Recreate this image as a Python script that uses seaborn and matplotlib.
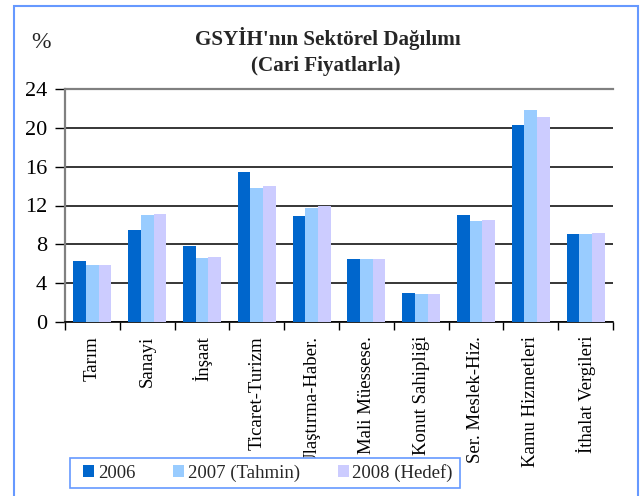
import matplotlib
matplotlib.use("Agg")
import matplotlib.pyplot as plt
import seaborn as sns
import pandas as pd
from matplotlib.patches import Rectangle
from matplotlib.ticker import FixedLocator

categories = ["Tarım", "Sanayi", "İnşaat", "Ticaret-Turizm", "Ulaştırma-Haber.",
              "Mali Müessese.", "Konut Sahipliği", "Ser. Meslek-Hiz.",
              "Kamu Hizmetleri", "İthalat Vergileri"]
series_names = ["2006", "2007 (Tahmin)", "2008 (Hedef)"]
v2006 = [6.3, 9.5, 7.8, 15.5, 10.9, 6.5, 3.0, 11.0, 20.3, 9.1]
v2007 = [5.9, 11.0, 6.6, 13.8, 11.7, 6.5, 2.9, 10.4, 21.8, 9.1]
v2008 = [5.9, 11.1, 6.7, 14.0, 11.9, 6.5, 2.9, 10.5, 21.1, 9.2]
yticks = [0, 4, 8, 12, 16, 20, 24]

rows = []
for name, vals in zip(series_names, [v2006, v2007, v2008]):
    for c, v in zip(categories, vals):
        rows.append({"Sektör": c, "Seri": name, "Değer": v})
df = pd.DataFrame(rows)

sns.set_theme(style="white")
plt.rcParams["font.family"] = ["Liberation Serif", "DejaVu Serif"]

fig = plt.figure(figsize=(6.4, 4.96), dpi=100)
ax = fig.add_axes([65/640, 1-322/496, (613-65)/640, (322-89)/496])

colors = ["#0066CC", "#99CCFF", "#CCCCFF"]
sns.barplot(data=df, x="Sektör", y="Değer", hue="Seri", order=categories,
            hue_order=series_names, palette=colors, saturation=1, width=0.69,
            linewidth=0, ax=ax, legend=False, zorder=3)

ax.set_ylim(0, 24)
ax.set_xlim(-0.5, len(categories) - 0.5)
ax.set_yticks(yticks)
ax.set_yticklabels([str(t) for t in yticks], fontsize=16, color="black")
ax.tick_params(axis="y", length=7, width=1, color="black", pad=6, left=True)
ax.yaxis.grid(True, color="black", linewidth=1.1, zorder=1)
ax.set_axisbelow(True)
ax.set_xlabel("")
ax.set_ylabel("")

ax.set_xticks(range(len(categories)))
ax.set_xticklabels(categories, rotation=90, fontsize=13.5, va="top", ha="center", color="black")
ax.xaxis.set_minor_locator(FixedLocator([i - 0.5 for i in range(len(categories) + 1)]))
ax.tick_params(axis="x", which="major", length=0, pad=10)
ax.tick_params(axis="x", which="minor", length=6, width=1, color="black", bottom=True)

ax.spines["right"].set_visible(False)
ax.spines["left"].set_color("#808080")
ax.spines["left"].set_linewidth(1.6)
ax.spines["top"].set_color("#808080")
ax.spines["top"].set_linewidth(1.6)
ax.spines["bottom"].set_color("black")
ax.spines["bottom"].set_linewidth(1.2)

fig.text(328/640, 1-38/496, "GSYİH'nın Sektörel Dağılımı", ha="center", va="center",
         fontsize=15.2, fontweight="bold")
fig.text(326/640, 1-66/496, "(Cari Fiyatlarla)", ha="center", va="center",
         fontsize=15.2, fontweight="bold")
fig.text(41/640, 1-42/496, "%", ha="center", va="center", fontsize=17)

# legend frame drawn separately (white box with blue edge)
legbox = Rectangle((70/640, 1-488/496), 390/640, 30/496, transform=fig.transFigure,
                   facecolor="white", edgecolor="#6699FF", linewidth=1.2, zorder=4)
fig.patches.append(legbox)

handles = [Rectangle((0, 0), 1, 1, facecolor=c, edgecolor="none") for c in colors]
leg = fig.legend(handles, series_names, loc="center", bbox_to_anchor=(268/640, 1-473/496),
                 ncol=3, fontsize=13.5, frameon=False,
                 handlelength=0.6, handleheight=0.6, handletextpad=0.2,
                 columnspacing=2.0, borderpad=0.2)
leg.set_zorder(5)

border = Rectangle((14/640, -0.1), (638-14)/640, 1.1 - 6/496, transform=fig.transFigure,
                   fill=False, edgecolor="#6699FF", linewidth=1.5, clip_on=False)
fig.patches.append(border)

fig.savefig("out.png", dpi=100)
